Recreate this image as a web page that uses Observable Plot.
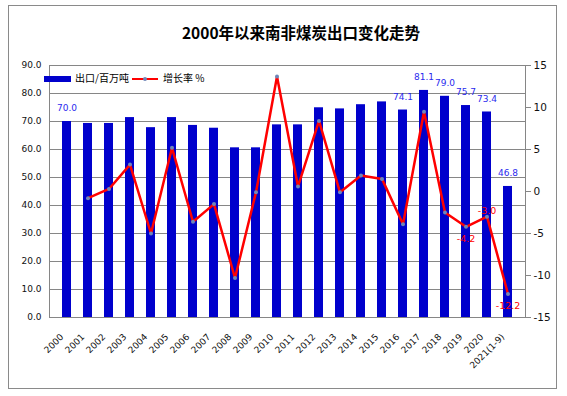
<!DOCTYPE html>
<html>
<head>
<meta charset="utf-8">
<script src="https://cdn.jsdelivr.net/npm/d3@7"></script>
<script src="https://cdn.jsdelivr.net/npm/@observablehq/plot@0.6"></script>
<style>
  html, body { margin: 0; padding: 0; background: #fff; }
  #wrap { position: relative; width: 567px; height: 396px; overflow: hidden; }
  #wrap svg { position: absolute; left: 0; top: 0; }
  .border { position: absolute; left: 8px; top: 5px; width: 547px; height: 382px; border: 1px solid #8a8a8a; box-sizing: content-box; }
  .title { position: absolute; left: 301px; top: 21px; transform: translateX(-50%); white-space: nowrap;
           font-family: "Noto Sans CJK SC", sans-serif; font-size: 15.5px; font-weight: bold; color: #000; }
  .lg { position: absolute; font-family: "Noto Sans CJK SC", sans-serif; font-size: 10px; color: #000; white-space: nowrap; line-height: 12px; }
</style>
</head>
<body>
<div id="wrap">
  <div class="border"></div>
  <div class="title">2000年以来南非煤炭出口变化走势</div>
</div>
<script>
const years = ["2000","2001","2002","2003","2004","2005","2006","2007","2008","2009","2010",
               "2011","2012","2013","2014","2015","2016","2017","2018","2019","2020","2021(1-9)"];
const exportsMt = [70.0, 69.3, 69.3, 71.4, 67.8, 71.4, 68.6, 67.6, 60.6, 60.6, 68.8,
                   68.8, 74.9, 74.5, 76.0, 77.0, 74.1, 81.1, 79.0, 75.7, 73.4, 46.8];
const growthPct = [null, -0.8, 0.3, 3.2, -5.0, 5.2, -3.6, -1.5, -10.3, -0.1, 13.7,
                   0.6, 8.4, -0.1, 1.9, 1.5, -3.9, 9.5, -2.5, -4.2, -3.0, -12.2];
const leftTicks = [0, 10, 20, 30, 40, 50, 60, 70, 80, 90];
const rightTicks = [-15, -10, -5, 0, 5, 10, 15];
const barLabelYears = ["2000","2016","2017","2018","2019","2020","2021(1-9)"];
const growthLabelBelow = ["2019","2021(1-9)"];
const growthLabelAbove = ["2020"];
const legendLabels = ["出口/百万吨", "增长率 %"];

// map right-axis (growth %) values onto the left-axis domain [0, 90]
const gy = g => (g + 15) * 3;

const data = years.map((year, i) => ({year, exp: exportsMt[i], g: growthPct[i]}));
const lineData = data.filter(d => d.g != null);

const chart = Plot.plot({
  width: 567, height: 396,
  marginLeft: 49, marginRight: 42, marginTop: 65, marginBottom: 79,
  x: {domain: years, paddingInner: 0.58, paddingOuter: 0.29, label: null},
  y: {domain: [0, 90], label: null},
  style: {fontFamily: "DejaVu Sans, sans-serif", background: "transparent", overflow: "visible"},
  marks: [
    Plot.gridY(leftTicks, {stroke: "#868686", strokeOpacity: 1}),
    Plot.barY(data, {x: "year", y: "exp", fill: "#0000CC"}),
    Plot.frame({stroke: "#868686"}),
    Plot.axisY({ticks: leftTicks, tickFormat: d => d.toFixed(1), tickSize: 0, tickPadding: 8, fontSize: 9, fill: "#111"}),
    Plot.axisY({anchor: "right", ticks: rightTicks.map(gy), tickFormat: v => String(Math.round(v / 3 - 15)),
                tickSize: 5, tickPadding: 3, fontSize: 10.5, stroke: "#868686", fill: "#111"}),
    Plot.axisX({tickRotate: -45, tickSize: 0, tickPadding: 6, dx: -5, dy: 12, fontSize: 9, fill: "#111"}),
    Plot.line(lineData, {x: "year", y: d => gy(d.g), stroke: "#FF0000", strokeWidth: 2.5}),
    Plot.dot(lineData, {x: "year", y: d => gy(d.g), r: 2, fill: "#6f86b8", stroke: "none"}),
    Plot.text(data.filter(d => barLabelYears.includes(d.year)),
      {x: "year", y: "exp", text: d => d.exp.toFixed(1), dy: -13, fill: "#2a2aee", fontSize: 9}),
    Plot.text(data.filter(d => growthLabelBelow.includes(d.year)),
      {x: "year", y: d => gy(d.g), text: d => d.g.toFixed(1), dy: 12, fill: "#FF0000", fontSize: 9.5}),
    Plot.text(data.filter(d => growthLabelAbove.includes(d.year)),
      {x: "year", y: d => gy(d.g), text: d => d.g.toFixed(1), dy: -6, fill: "#FF0000", fontSize: 9.5})
  ]
});
const wrap = document.getElementById("wrap");
wrap.insertBefore(chart, wrap.querySelector(".title"));

// legend overlay
function el(style, text) {
  const d = document.createElement("div");
  d.setAttribute("style", "position:absolute;" + style);
  if (text != null) { d.className = "lg"; d.textContent = text; }
  wrap.appendChild(d);
}
el("left:44px;top:76px;width:27px;height:6px;background:#0000CC;");
el("left:75px;top:72px;", legendLabels[0]);
el("left:132px;top:77.5px;width:26px;height:2.5px;background:#FF0000;");
el("left:143px;top:76.7px;width:4px;height:4px;border-radius:2px;background:#6f86b8;");
el("left:163px;top:72px;", legendLabels[1]);
</script>
</body>
</html>
